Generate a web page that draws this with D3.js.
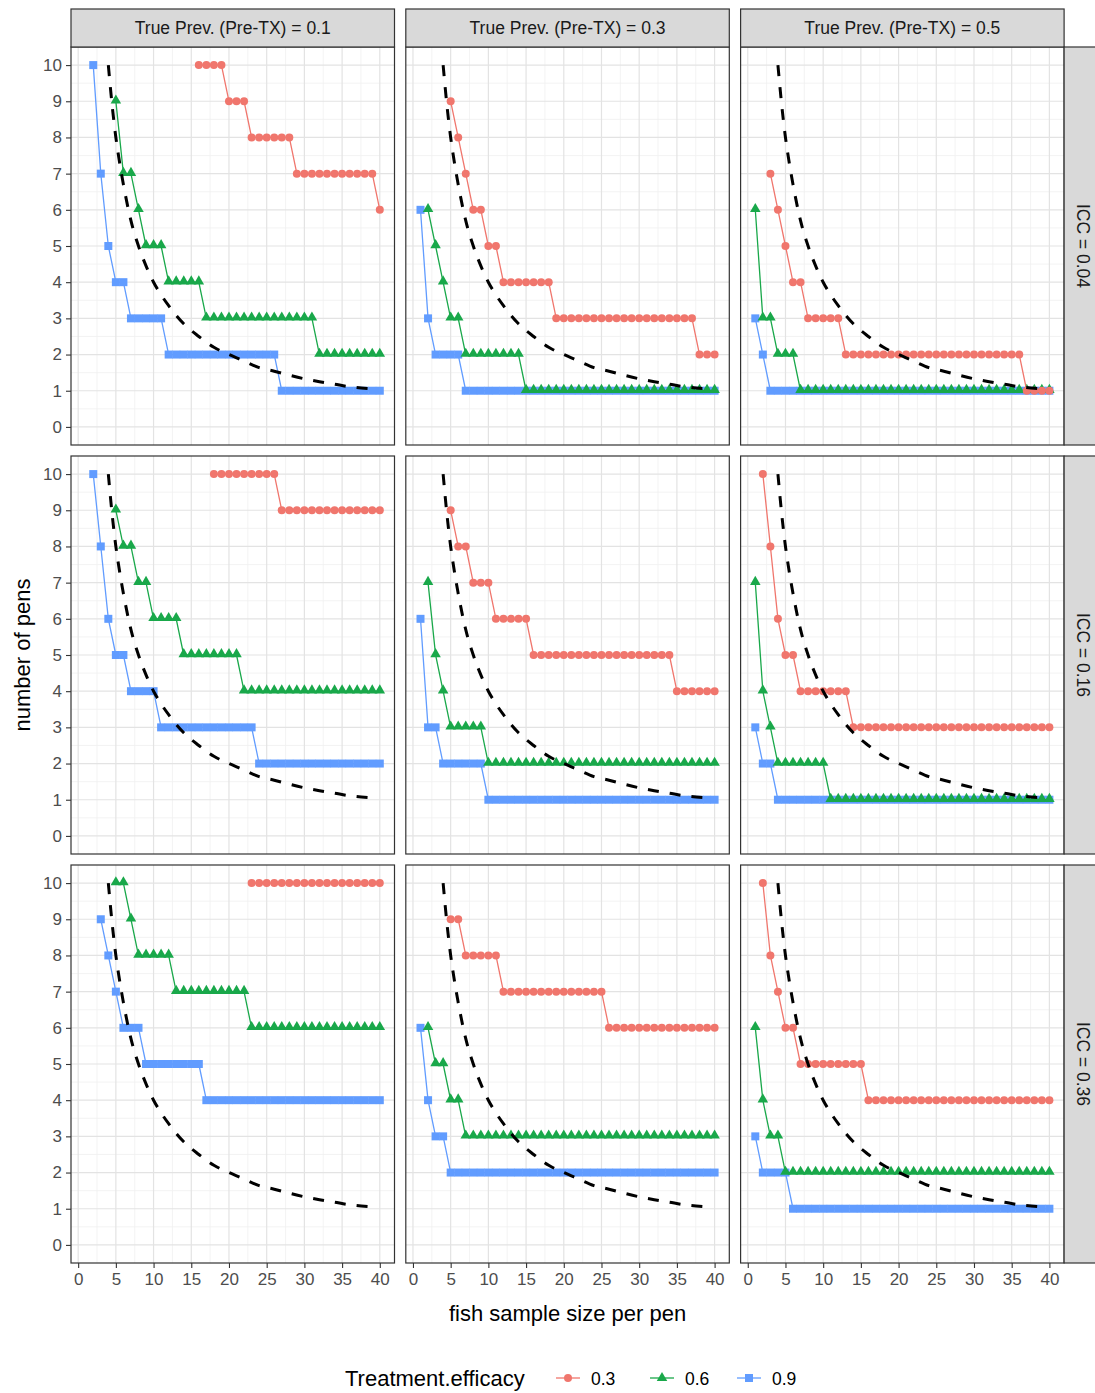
<!DOCTYPE html>
<html>
<head>
<meta charset="utf-8">
<script src="https://cdn.jsdelivr.net/npm/d3@7"></script>
<style>
  body { margin: 0; background: #fff; }
  text { font-family: "Liberation Sans", Arial, sans-serif; }
</style>
</head>
<body>
<svg id="chart" width="1095" height="1393"></svg>
<script>
const iccLevels = ["0.04", "0.16", "0.36"];
const prevLevels = ["0.1", "0.3", "0.5"];
const efficacyLevels = ["0.3", "0.6", "0.9"];
const efficacyColors = ["#F0766D", "#19A84A", "#619CFF"];
const xTicks = [0, 5, 10, 15, 20, 25, 30, 35, 40];
const yTicks = [0, 1, 2, 3, 4, 5, 6, 7, 8, 9, 10];

// panels are row-major: ICC rows (0.04, 0.16, 0.36) x prevalence columns (0.1, 0.3, 0.5)
// first fish sample size shown, then number of pens for each sample size up to 40
const start03 = [16, 5, 3, 18, 5, 2, 23, 5, 2];
const pens03 = [
  [10,10,10,10,9,9,9,8,8,8, 8,8,8,7,7,7,7,7,7,7, 7,7,7,7,6],
  [9,8,7,6,6,5,5,4,4,4, 4,4,4,4,3,3,3,3,3,3, 3,3,3,3,3,3,3,3,3,3, 3,3,3,2,2,2],
  [7,6,5,4,4,3,3,3,3,3, 2,2,2,2,2,2,2,2,2,2, 2,2,2,2,2,2,2,2,2,2, 2,2,2,2,1,1,1,1],
  [10,10,10,10,10,10,10,10,10,9, 9,9,9,9,9,9,9,9,9,9, 9,9,9],
  [9,8,8,7,7,7,6,6,6,6, 6,5,5,5,5,5,5,5,5,5, 5,5,5,5,5,5,5,5,5,5, 4,4,4,4,4,4],
  [10,8,6,5,5,4,4,4,4,4, 4,4,3,3,3,3,3,3,3,3, 3,3,3,3,3,3,3,3,3,3, 3,3,3,3,3,3,3,3,3],
  [10,10,10,10,10,10,10,10,10,10, 10,10,10,10,10,10,10,10],
  [9,9,8,8,8,8,8,7,7,7, 7,7,7,7,7,7,7,7,7,7, 7,6,6,6,6,6,6,6,6,6, 6,6,6,6,6,6],
  [10,8,7,6,6,5,5,5,5,5, 5,5,5,5,4,4,4,4,4,4, 4,4,4,4,4,4,4,4,4,4, 4,4,4,4,4,4,4,4,4]
];
const start06 = [5, 2, 1, 5, 2, 1, 5, 2, 1];
const pens06 = [
  [9,7,7,6,5,5,5,4,4,4, 4,4,3,3,3,3,3,3,3,3, 3,3,3,3,3,3,3,2,2,2, 2,2,2,2,2,2],
  [6,5,4,3,3,2,2,2,2,2, 2,2,2,1,1,1,1,1,1,1, 1,1,1,1,1,1,1,1,1,1, 1,1,1,1,1,1,1,1,1],
  [6,3,3,2,2,2,1,1,1,1, 1,1,1,1,1,1,1,1,1,1, 1,1,1,1,1,1,1,1,1,1, 1,1,1,1,1,1,1,1,1,1],
  [9,8,8,7,7,6,6,6,6,5, 5,5,5,5,5,5,5,4,4,4, 4,4,4,4,4,4,4,4,4,4, 4,4,4,4,4,4],
  [7,5,4,3,3,3,3,3,2,2, 2,2,2,2,2,2,2,2,2,2, 2,2,2,2,2,2,2,2,2,2, 2,2,2,2,2,2,2,2,2],
  [7,4,3,2,2,2,2,2,2,2, 1,1,1,1,1,1,1,1,1,1, 1,1,1,1,1,1,1,1,1,1, 1,1,1,1,1,1,1,1,1,1],
  [10,10,9,8,8,8,8,8,7,7, 7,7,7,7,7,7,7,7,6,6, 6,6,6,6,6,6,6,6,6,6, 6,6,6,6,6,6],
  [6,5,5,4,4,3,3,3,3,3, 3,3,3,3,3,3,3,3,3,3, 3,3,3,3,3,3,3,3,3,3, 3,3,3,3,3,3,3,3,3],
  [6,4,3,3,2,2,2,2,2,2, 2,2,2,2,2,2,2,2,2,2, 2,2,2,2,2,2,2,2,2,2, 2,2,2,2,2,2,2,2,2,2]
];
const start09 = [2, 1, 1, 2, 1, 1, 3, 1, 1];
const pens09 = [
  [10,7,5,4,4,3,3,3,3,3, 2,2,2,2,2,2,2,2,2,2, 2,2,2,2,2,1,1,1,1,1, 1,1,1,1,1,1,1,1,1],
  [6,3,2,2,2,2,1,1,1,1, 1,1,1,1,1,1,1,1,1,1, 1,1,1,1,1,1,1,1,1,1, 1,1,1,1,1,1,1,1,1,1],
  [3,2,1,1,1,1,1,1,1,1, 1,1,1,1,1,1,1,1,1,1, 1,1,1,1,1,1,1,1,1,1, 1,1,1,1,1,1,1,1,1,1],
  [10,8,6,5,5,4,4,4,4,3, 3,3,3,3,3,3,3,3,3,3, 3,3,2,2,2,2,2,2,2,2, 2,2,2,2,2,2,2,2,2],
  [6,3,3,2,2,2,2,2,2,1, 1,1,1,1,1,1,1,1,1,1, 1,1,1,1,1,1,1,1,1,1, 1,1,1,1,1,1,1,1,1,1],
  [3,2,2,1,1,1,1,1,1,1, 1,1,1,1,1,1,1,1,1,1, 1,1,1,1,1,1,1,1,1,1, 1,1,1,1,1,1,1,1,1,1],
  [9,8,7,6,6,6,5,5,5,5, 5,5,5,5,4,4,4,4,4,4, 4,4,4,4,4,4,4,4,4,4, 4,4,4,4,4,4,4,4],
  [6,4,3,3,2,2,2,2,2,2, 2,2,2,2,2,2,2,2,2,2, 2,2,2,2,2,2,2,2,2,2, 2,2,2,2,2,2,2,2,2,2],
  [3,2,2,2,2,1,1,1,1,1, 1,1,1,1,1,1,1,1,1,1, 1,1,1,1,1,1,1,1,1,1, 1,1,1,1,1,1,1,1,1,1]
];

// dashed reference curve, same in every panel
const refX = [4, 4.5, 5, 5.5, 6, 7, 8, 9, 10, 11, 12, 14, 16, 18, 20, 22, 24, 26, 28, 30, 32, 34, 36, 38.5];
const refY = [10, 8.9, 8.0, 7.3, 6.7, 5.7, 5.0, 4.45, 4.0, 3.65, 3.35, 2.85, 2.5, 2.2, 2.0, 1.82, 1.64, 1.54, 1.43, 1.33, 1.25, 1.18, 1.11, 1.06];

const starts = [start03, start06, start09];
const pens = [pens03, pens06, pens09];

const colX = [71, 405.8, 740.6];
const rowY = [47, 456, 865];
const pw = 323.5, ph = 398;

const svg = d3.select("#chart");
svg.append("rect").attr("width", 1095).attr("height", 1393).attr("fill", "#fff");

const x = d3.scaleLinear().domain([-0.95, 41.95]).range([0, pw]);
const y = d3.scaleLinear().domain([-0.5, 10.5]).range([ph, 0]);

const xMinor = xTicks.slice(1).map((t, i) => (t + xTicks[i]) / 2);
const yMinor = yTicks.slice(1).map((t, i) => (t + yTicks[i]) / 2);

const line = d3.line().x(d => x(d.x)).y(d => y(d.y));
const refLine = d3.line().x(d => x(d.x)).y(d => y(d.y)).curve(d3.curveMonotoneX);
const tri = d3.symbol().type(d3.symbolTriangle).size(48);

function drawMarks(g, k, data) {
  const col = efficacyColors[k];
  g.append("path").datum(data)
    .attr("d", line).attr("fill", "none")
    .attr("stroke", col).attr("stroke-width", 1.3);
  if (k === 0) {
    g.selectAll(null).data(data).join("circle")
      .attr("cx", d => x(d.x)).attr("cy", d => y(d.y))
      .attr("r", 4).attr("fill", col);
  } else if (k === 1) {
    g.selectAll(null).data(data).join("path")
      .attr("d", tri)
      .attr("transform", d => `translate(${x(d.x)},${y(d.y) - 0.8})`)
      .attr("fill", col);
  } else {
    g.selectAll(null).data(data).join("rect")
      .attr("x", d => x(d.x) - 4).attr("y", d => y(d.y) - 4)
      .attr("width", 8).attr("height", 8).attr("fill", col);
  }
}

iccLevels.forEach((icc, r) => {
  prevLevels.forEach((prev, c) => {
    const p = r * 3 + c;
    const g = svg.append("g").attr("transform", `translate(${colX[c]},${rowY[r]})`);

    g.append("rect").attr("width", pw).attr("height", ph).attr("fill", "#fff");

    g.selectAll(null).data(xMinor).join("line")
      .attr("x1", d => x(d)).attr("x2", d => x(d)).attr("y1", 0).attr("y2", ph)
      .attr("stroke", "#F0F0F0").attr("stroke-width", 0.8);
    g.selectAll(null).data(yMinor).join("line")
      .attr("y1", d => y(d)).attr("y2", d => y(d)).attr("x1", 0).attr("x2", pw)
      .attr("stroke", "#F0F0F0").attr("stroke-width", 0.8);
    g.selectAll(null).data(xTicks).join("line")
      .attr("x1", d => x(d)).attr("x2", d => x(d)).attr("y1", 0).attr("y2", ph)
      .attr("stroke", "#E3E3E3").attr("stroke-width", 1.2);
    g.selectAll(null).data(yTicks).join("line")
      .attr("y1", d => y(d)).attr("y2", d => y(d)).attr("x1", 0).attr("x2", pw)
      .attr("stroke", "#E3E3E3").attr("stroke-width", 1.2);

    // drawn 0.9, 0.6, 0.3 so the lower efficacy sits on top
    [2, 1, 0].forEach(k => {
      const data = pens[k][p].map((v, i) => ({ x: starts[k][p] + i, y: v }));
      drawMarks(g, k, data);
    });

    g.append("path").datum(refX.map((v, i) => ({ x: v, y: refY[i] })))
      .attr("d", refLine).attr("fill", "none")
      .attr("stroke", "#000").attr("stroke-width", 3)
      .attr("stroke-dasharray", "11,11");

    g.append("rect").attr("width", pw).attr("height", ph)
      .attr("fill", "none").attr("stroke", "#333").attr("stroke-width", 1.2);

    if (c === 0) {
      const ax = g.append("g").call(d3.axisLeft(y).tickValues(yTicks).tickSize(5).tickPadding(4));
      ax.select(".domain").remove();
      ax.selectAll(".tick line").attr("stroke", "#333").attr("stroke-width", 1.1);
      ax.selectAll(".tick text").attr("fill", "#4D4D4D").style("font-size", "17px")
        .style("font-family", "'Liberation Sans', Arial, sans-serif");
    }
    if (r === 2) {
      const ax = g.append("g").attr("transform", `translate(0,${ph})`)
        .call(d3.axisBottom(x).tickValues(xTicks).tickSize(5).tickPadding(5));
      ax.select(".domain").remove();
      ax.selectAll(".tick line").attr("stroke", "#333").attr("stroke-width", 1.1);
      ax.selectAll(".tick text").attr("fill", "#4D4D4D").style("font-size", "17px")
        .style("font-family", "'Liberation Sans', Arial, sans-serif");
    }
  });
});

// top strips
prevLevels.forEach((prev, c) => {
  svg.append("rect").attr("x", colX[c]).attr("y", 9).attr("width", pw).attr("height", 38)
    .attr("fill", "#D9D9D9").attr("stroke", "#333").attr("stroke-width", 1.2);
  svg.append("text").attr("x", colX[c] + pw / 2).attr("y", 34)
    .attr("text-anchor", "middle").attr("fill", "#1A1A1A").style("font-size", "17.5px")
    .text(`True Prev. (Pre-TX) = ${prev}`);
});

// right strips
iccLevels.forEach((icc, r) => {
  svg.append("rect").attr("x", colX[2] + pw).attr("y", rowY[r]).attr("width", 40).attr("height", ph)
    .attr("fill", "#D9D9D9").attr("stroke", "#333").attr("stroke-width", 1.2);
  svg.append("text")
    .attr("transform", `translate(${colX[2] + pw + 13},${rowY[r] + ph / 2}) rotate(90)`)
    .attr("text-anchor", "middle").attr("fill", "#1A1A1A").style("font-size", "17.5px")
    .text(`ICC = ${icc}`);
});

// axis titles
svg.append("text").attr("x", (colX[0] + colX[2] + pw) / 2).attr("y", 1321)
  .attr("text-anchor", "middle").style("font-size", "22px").text("fish sample size per pen");
svg.append("text").attr("transform", `translate(30,${(rowY[0] + rowY[2] + ph) / 2}) rotate(-90)`)
  .attr("text-anchor", "middle").style("font-size", "22px").text("number of pens");

// legend
const legend = svg.append("g").attr("transform", "translate(0,1378)");
legend.append("text").attr("x", 345).attr("y", 8).style("font-size", "22px").text("Treatment.efficacy");
const keyX = [568, 662, 749];
efficacyLevels.forEach((lev, k) => {
  const kg = legend.append("g").attr("transform", `translate(${keyX[k]},0)`);
  kg.append("line").attr("x1", -12).attr("x2", 12).attr("stroke", efficacyColors[k]).attr("stroke-width", 1.3);
  if (k === 0) kg.append("circle").attr("r", 4).attr("fill", efficacyColors[k]);
  else if (k === 1) kg.append("path").attr("d", tri).attr("fill", efficacyColors[k]);
  else kg.append("rect").attr("x", -4).attr("y", -4).attr("width", 8).attr("height", 8).attr("fill", efficacyColors[k]);
  kg.append("text").attr("x", 23).attr("y", 6.5).style("font-size", "17.5px").text(lev);
});
</script>
</body>
</html>
